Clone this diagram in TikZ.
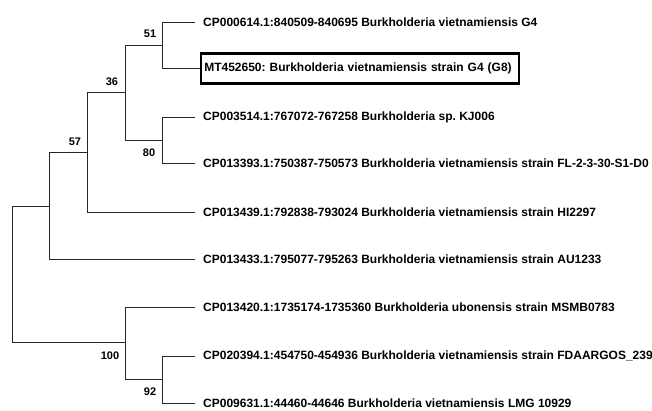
\documentclass[tikz,border=0pt]{standalone}
\usepackage{fontspec}
\setmainfont{Liberation Sans}
\frenchspacing
\begin{document}
\begin{tikzpicture}[x=1bp,y=-1bp,
  branch/.style={draw=black!85,line width=0.9bp},
  leaf/.style={anchor=west,inner xsep=8bp,inner ysep=1bp,font=\fontsize{12bp}{14bp}\selectfont\bfseries},
  boxleaf/.style={draw=black,line width=2.6bp,anchor=west,inner xsep=3.5bp,text width=311bp,align=left,minimum height=30bp,font=\fontsize{12bp}{14bp}\selectfont\bfseries},
  boot/.style={inner sep=0pt,font=\fontsize{11bp}{13bp}\selectfont\bfseries}]
\useasboundingbox (0,0) rectangle (652,410);
\clip (0,0) rectangle (652,410);
% internal nodes
\coordinate (n51) at (162,45.5);
\coordinate (n80) at (162,140);
\coordinate (n36) at (125,92.5);
\coordinate (n57) at (87,152);
\coordinate (n49) at (49,206);
\coordinate (root) at (12,274);
\coordinate (n100) at (125,342);
\coordinate (n92) at (162,379.5);
% leaves
\node[leaf] (l1) at (195,22) {CP000614.1:840509-840695 Burkholderia vietnamiensis G4};
\node[boxleaf] (l2) at (199.5,68.5) {MT452650: Burkholderia vietnamiensis strain G4 (G8)};
\node[leaf] (l3) at (195,117) {CP003514.1:767072-767258 Burkholderia sp. KJ006};
\node[leaf] (l4) at (195,163) {CP013393.1:750387-750573 Burkholderia vietnamiensis strain FL-2-3-30-S1-D0};
\node[leaf] (l5) at (195,212) {CP013439.1:792838-793024 Burkholderia vietnamiensis strain HI2297};
\node[leaf] (l6) at (195,259) {CP013433.1:795077-795263 Burkholderia vietnamiensis strain AU1233};
\node[leaf] (l7) at (195,307) {CP013420.1:1735174-1735360 Burkholderia ubonensis strain MSMB0783};
\node[leaf] (l8) at (195,356) {CP020394.1:454750-454936 Burkholderia vietnamiensis strain FDAARGOS\_239};
\node[leaf] (l9) at (195,403) {CP009631.1:44460-44646 Burkholderia vietnamiensis LMG 10929};
% branches
\draw[branch] (n51) |- (l1);
\draw[branch] (n51) |- (l2);
\draw[branch] (n80) |- (l3);
\draw[branch] (n80) |- (l4);
\draw[branch] (n36) |- (n51);
\draw[branch] (n36) |- (n80);
\draw[branch] (n57) |- (n36);
\draw[branch] (n57) |- (l5);
\draw[branch] (n49) |- (n57);
\draw[branch] (n49) |- (l6);
\draw[branch] (root) |- (n49);
\draw[branch] (root) |- (n100);
\draw[branch] (n100) |- (l7);
\draw[branch] (n100) |- (n92);
\draw[branch] (n92) |- (l8);
\draw[branch] (n92) |- (l9);
% bootstrap values
\node[boot] (b51) at (150,34) {51};
\node[boot] (b36) at (112,82) {36};
\node[boot] (b57) at (75,142) {57};
\node[boot] (b80) at (149,153) {80};
\node[boot] (b100) at (110,356) {100};
\node[boot] (b92) at (150,392) {92};
\end{tikzpicture}
\end{document}
